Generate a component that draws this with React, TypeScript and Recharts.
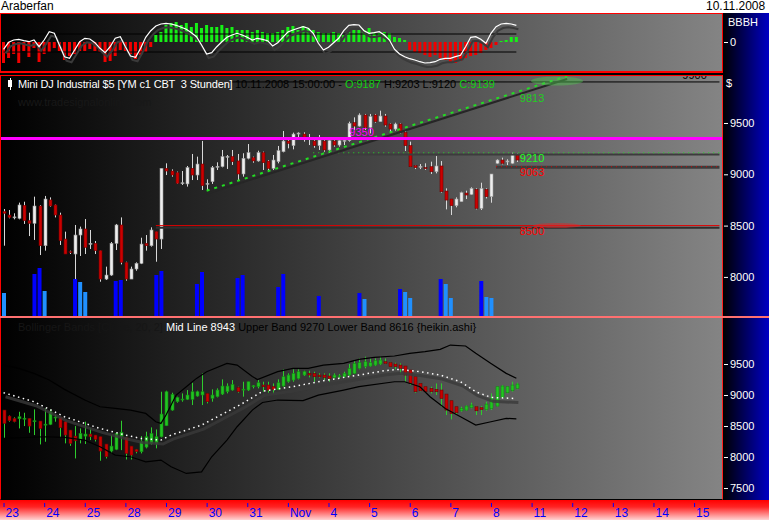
import React from 'react';
import { ComposedChart, Bar, Line, XAxis, YAxis, ReferenceLine, ReferenceDot, Cell } from 'recharts';

const FONT = '"Liberation Sans", Arial, Helvetica, sans-serif';

// 142 three-hour slots across the plot, a date label every 8 slots
const SLOTS = 142;
const dayLabels = ['23', '24', '25', '28', '29', '30', '31', 'Nov', '4', '5', '6', '7', '8', '11', '12', '13', '14', '15'];

// Mini DJ Industrial $5, 3h bars (main pane)
const openP = [
  8636, 8603, 8580, 8571, 8697, 8548, 8522, 8691, 8304, 8750,
  8701, 8603, 8369, 8246, 8223, 8408, 8467, 8320, 8327, 8256,
  7979, 8018, 8327, 8506, 8142, 7979, 8077, 8132, 8327, 8304,
  8441, 8369, 9058, 9032, 9016, 8912, 8906, 9058, 8993, 9100,
  8906, 8928, 9075, 9075, 9172, 9172, 9130, 9003, 9156, 9162,
  9130, 9211, 9129, 9058, 9124, 9220, 9324, 9279, 9399, 9392,
  9357, 9324, 9279, 9324, 9237, 9324, 9285, 9328, 9328, 9503,
  9470, 9578, 9458, 9578, 9513, 9568, 9490, 9441, 9490, 9409,
  9279, 9084, 9074, 9065, 9074, 9025, 9081, 8837, 8759, 8694,
  8733, 8817, 8804, 8853, 8668, 8853, 8782, 9107, 9139, 9120,
  9107, 9187,
];
const highP = [
  8662, 8652, 8620, 8724, 8733, 8626, 8782, 8700, 8789, 8775,
  8705, 8626, 8441, 8256, 8506, 8490, 8564, 8457, 8350, 8256,
  8100, 8340, 8516, 8580, 8148, 8100, 8142, 8382, 8408, 8483,
  8441, 9058, 9107, 9048, 9026, 9032, 9081, 9198, 9172, 9325,
  8951, 9081, 9117, 9237, 9188, 9237, 9198, 9205, 9295, 9172,
  9230, 9221, 9139, 9188, 9276, 9422, 9350, 9406, 9409, 9409,
  9392, 9350, 9383, 9350, 9350, 9334, 9350, 9360, 9513, 9555,
  9594, 9588, 9588, 9588, 9620, 9588, 9497, 9503, 9497, 9422,
  9318, 9090, 9100, 9107, 9123, 9178, 9129, 8863, 8759, 8775,
  8830, 8840, 8873, 8863, 8918, 8863, 9003, 9146, 9162, 9146,
  9210, 9203,
];
const lowP = [
  8304, 8571, 8561, 8561, 8516, 8398, 8360, 8213, 8256, 8684,
  8580, 8311, 8223, 8223, 7979, 8204, 8223, 8272, 8223, 7953,
  7970, 8010, 8262, 8122, 7963, 7979, 8060, 8125, 8256, 8295,
  8148, 8272, 8993, 8977, 8906, 8896, 8880, 8944, 8944, 8847,
  8840, 8906, 9042, 9068, 9052, 9091, 8944, 8977, 9146, 9113,
  9123, 9042, 9032, 9042, 9107, 9214, 9253, 9243, 9350, 9318,
  9285, 9259, 9237, 9220, 9211, 9269, 9269, 9285, 9318, 9432,
  9464, 9432, 9399, 9503, 9513, 9464, 9409, 9425, 9399, 9227,
  9074, 9051, 9051, 9042, 9003, 9009, 8821, 8658, 8603, 8678,
  8733, 8759, 8798, 8658, 8652, 8765, 8723, 9100, 9097, 9090,
  9100, 9120,
];
const closeP = [
  8620, 8580, 8585, 8701, 8548, 8522, 8691, 8304, 8759, 8691,
  8603, 8353, 8223, 8240, 8408, 8467, 8288, 8327, 8256, 7979,
  8018, 8327, 8506, 8142, 7979, 8077, 8132, 8320, 8304, 8457,
  8369, 9058, 9032, 8993, 8912, 8918, 9065, 8993, 9100, 8889,
  8912, 9065, 9078, 9172, 9175, 9123, 9003, 9156, 9211, 9130,
  9211, 9113, 9058, 9139, 9230, 9324, 9302, 9392, 9402, 9357,
  9360, 9279, 9334, 9237, 9328, 9285, 9328, 9331, 9497, 9470,
  9578, 9458, 9562, 9513, 9568, 9480, 9441, 9490, 9406, 9279,
  9074, 9065, 9078, 9063, 9025, 9081, 8830, 8749, 8694, 8759,
  8821, 8798, 8863, 8668, 8863, 8782, 9003, 9139, 9107, 9130,
  9188, 9139,
];

// volume, only the bars that show above the pane floor (thousands)
const volIdx = [0, 6, 7, 8, 14, 15, 16, 22, 23, 30, 31, 38, 39, 46, 47, 54, 55, 62, 70, 71, 78, 79, 80, 86, 87, 88, 94, 95, 96];
const volVal = [23, 42, 48, 25, 37, 34, 24, 35, 36, 41, 45, 32, 44, 38, 41, 29, 42, 20, 23, 17, 27, 24, 18, 37, 32, 18, 35, 19, 18];
const volShade = ['l', 'd', 'd', 'l', 'd', 'l', 'l', 'd', 'd', 'd', 'd', 'd', 'd', 'd', 'd', 'd', 'd', 'd', 'd', 'l', 'd', 'l', 'l', 'd', 'l', 'l', 'd', 'l', 'l'];

// BBBH pane: histogram and oscillator line
const histo = [
  -21, -16, -12, -21, -9, -15, -6, -20, -12, -10, -6, -9, -18, -14, -12, -9, -9, -7, -9, -10,
  -20, -19, -14, -8, -9, -12, -17, -13, -10, -5,
  7, 10, 17, 19, 20, 17, 19, 15, 19, 14, 17, 15, 15, 17, 14, 15, 12, 12, 12, 10,
  12, 10, 9, 9, 10, 12, 15, 16, 12, 16, 14, 12, 10, 9, 9, 10, 9, 7, 10, 12,
  14, 12, 14, 10, 9, 10, 9, 5, 4, 2,
  -8, -10, -11, -13, -15, -13, -16, -18, -20, -21, -19, -16, -14, -13, -11, -8, -6,
  -3, 1, 2, 5, 5,
];
const oscLine = [
  -7.3, -0.3, 2, 2.7, 1.3, 0.3, 2, -4.7, 2, 10.3,
  8.7, -3, -14.7, -16.3, -8, 0.3, 3.7, 3, -0.7, -6.3,
  -10.7, -4.7, 3.7, 5.3, -4.7, -14, -15.3, -6.3, 4.7, 11.3,
  16, 18, 18.7, 18, 16.7, 14.7, 12.7, 9.3, 5.3, -3,
  -12, -10.7, -4.7, 0.3, 4.7, 7, 8.7, 7, 4.7, 2,
  3.7, 2.7, 1.3, -4, -0.7, 4.7, 10, 12, 13.7, 15.3,
  13.7, 8.7, -1.3, -8, -5.3, -0.7, 3.7, 11.3, 16.7, 17.3,
  17, 11.3, 8.7, 9.3, 10.3, 7, 2, -7.3, -12, -14.7,
  -16.7, -18, -19.7, -21, -20.7, -19.7, -17.3, -16.3, -16.3, -14.7,
  -13.3, -4.7, 4.7, 5.3, 2.7, -1.3, 8.7, 15.3, 18, 18.7,
  18, 16.7,
];

// heikin ashi candles (lower pane)
const haO = [
  8757, 8660, 8623, 8617, 8620, 8623, 8575, 8580, 8520, 8526,
  8639, 8639, 8569, 8434, 8337, 8284, 8337, 8370, 8354, 8327,
  8209, 8096, 8123, 8327, 8311, 8176, 8123, 8085, 8160, 8214,
  8219, 8327, 8505, 8757, 8892, 8925, 8930, 8930, 8983, 9000,
  9026, 8946, 8973, 9015, 9053, 9080, 9123, 9085, 9080, 9145,
  9134, 9161, 9161, 9134, 9091, 9145, 9214, 9241, 9268, 9322,
  9349, 9349, 9322, 9322, 9306, 9284, 9305, 9295, 9322, 9349,
  9430, 9457, 9467, 9483, 9500, 9537, 9521, 9500, 9483, 9467,
  9403, 9295, 9188, 9134, 9107, 9091, 9080, 9015, 8908, 8811,
  8746, 8757, 8800, 8811, 8795, 8768, 8784, 8822, 8962, 9037,
  9069, 9107,
];
const haH = [
  8757, 8670, 8640, 8730, 8714, 8623, 8768, 8580, 8784, 8768,
  8677, 8639, 8569, 8434, 8499, 8462, 8570, 8462, 8354, 8327,
  8209, 8354, 8392, 8585, 8311, 8176, 8130, 8337, 8408, 8478,
  8445, 9053, 9069, 9037, 8973, 9026, 9080, 9198, 9069, 9349,
  9026, 9091, 9107, 9252, 9188, 9241, 9134, 9214, 9214, 9161,
  9241, 9214, 9214, 9187, 9252, 9413, 9349, 9413, 9413, 9392,
  9392, 9376, 9350, 9349, 9349, 9349, 9338, 9376, 9500, 9553,
  9591, 9618, 9591, 9591, 9618, 9591, 9530, 9521, 9510, 9467,
  9403, 9295, 9188, 9134, 9134, 9187, 9187, 9015, 8908, 8811,
  8811, 8833, 8876, 8822, 8822, 8892, 9026, 9134, 9161, 9145,
  9214, 9198,
];
const haL = [
  8300, 8569, 8560, 8461, 8499, 8391, 8354, 8203, 8246, 8515,
  8569, 8316, 8220, 8180, 7977, 8220, 8210, 8273, 8250, 7940,
  7977, 8058, 8111, 8111, 7960, 7960, 8060, 8058, 8140, 8200,
  8140, 8316, 8499, 8746, 8876, 8892, 8919, 8838, 8973, 8838,
  8865, 8892, 8962, 9000, 9026, 9069, 9037, 8973, 9064, 9107,
  9107, 9053, 9037, 9026, 9080, 9134, 9198, 9214, 9252, 9306,
  9284, 9214, 9280, 9241, 9214, 9268, 9268, 9284, 9306, 9338,
  9414, 9430, 9457, 9467, 9483, 9500, 9457, 9414, 9349, 9214,
  9161, 9037, 9060, 9040, 9026, 9000, 8811, 8677, 8607, 8677,
  8730, 8746, 8784, 8677, 8677, 8746, 8757, 8811, 8946, 9026,
  9053, 9091,
];
const haC = [
  8542, 8585, 8569, 8650, 8626, 8499, 8585, 8461, 8530, 8730,
  8645, 8472, 8354, 8219, 8262, 8380, 8370, 8327, 8284, 8096,
  8004, 8176, 8380, 8400, 8058, 8031, 8085, 8246, 8327, 8380,
  8327, 8693, 9053, 9010, 8961, 8935, 9000, 9053, 9053, 9053,
  8892, 9000, 9080, 9145, 9145, 9171, 9053, 9095, 9214, 9150,
  9198, 9134, 9080, 9091, 9198, 9295, 9322, 9349, 9376, 9376,
  9322, 9295, 9295, 9284, 9268, 9322, 9310, 9349, 9430, 9510,
  9521, 9537, 9521, 9553, 9564, 9510, 9457, 9457, 9430, 9322,
  9188, 9053, 9069, 9053, 9053, 9053, 8946, 8757, 8703, 8714,
  8784, 8822, 8838, 8746, 8768, 8854, 8946, 9134, 9145, 9134,
  9161, 9177,
];

// Bollinger bands, read at the slots below
const upperIdx = [0, 3, 6, 9, 12, 16, 19, 22, 25, 28, 30, 31, 32, 34, 36, 38, 40, 44, 46, 49, 50, 54, 57, 60, 63, 67, 70, 73, 77, 80, 83, 86, 88, 91, 93, 96, 99, 101];
const upperBand = [9483, 9430, 9349, 9241, 9091, 8919, 8811, 8784, 8757, 8703, 8569, 8542, 8677, 8999, 9134, 9268, 9376, 9510, 9483, 9300, 9250, 9376, 9430, 9430, 9483, 9510, 9575, 9607, 9629, 9672, 9699, 9736, 9806, 9790, 9672, 9510, 9349, 9270];
const lowerIdx = [0, 8, 12, 16, 19, 22, 25, 28, 31, 33, 36, 39, 41, 44, 46, 49, 51, 54, 59, 62, 67, 70, 77, 79, 82, 84, 87, 90, 93, 96, 99, 101];
const lowerBand = [8300, 8327, 8316, 8273, 8165, 8031, 8004, 7923, 7950, 7843, 7735, 7760, 8004, 8273, 8488, 8757, 8880, 8919, 8910, 8999, 9080, 9134, 9214, 9214, 9134, 8972, 8784, 8650, 8515, 8569, 8623, 8616];
const midIdx = [0, 6, 12, 19, 24, 27, 31, 33, 39, 44, 47, 51, 57, 63, 70, 75, 78, 82, 86, 90, 93, 96, 101];
const midBand = [9037, 8892, 8650, 8461, 8354, 8300, 8273, 8354, 8515, 8730, 8860, 9060, 9134, 9231, 9322, 9392, 9414, 9376, 9322, 9214, 9053, 8962, 8943];

const pick = (idxs: number[], vals: any[], i: number) => {
  const k = idxs.indexOf(i);
  return k < 0 ? null : vals[k];
};

const rows = Array.from({ length: SLOTS }, (_, i) => ({
  idx: i,
  o: openP[i] ?? null,
  h: highP[i] ?? null,
  l: lowP[i] ?? null,
  c: closeP[i] ?? null,
  ho: haO[i] ?? null,
  hh: haH[i] ?? null,
  hl: haL[i] ?? null,
  hc: haC[i] ?? null,
  hist: histo[i] ?? null,
  osc: oscLine[i] ?? null,
  vol: pick(volIdx, volVal, i),
  shade: pick(volIdx, volShade, i),
  upper: pick(upperIdx, upperBand, i),
  lower: pick(lowerIdx, lowerBand, i),
  mid: pick(midIdx, midBand, i),
}));

const drawCandle = (p: any, o: number, h: number, l: number, c: number, col: any) => {
  let { x, y, width, height } = p;
  if (height < 0) {
    y += height;
    height = -height;
  }
  const k = h > l ? height / (h - l) : 0;
  const py = (v: number) => y + (h - v) * k;
  const cx = Math.round(x + width / 2) + 0.5;
  const top = py(Math.max(o, c));
  const bodyH = Math.max(1, py(Math.min(o, c)) - top);
  const up = c >= o;
  return (
    <g>
      <line x1={cx} x2={cx} y1={y} y2={y + height} stroke={col.wick} strokeWidth={1} />
      <rect x={cx - 1.5} y={top} width={3} height={bodyH} fill={up ? col.up : col.down} stroke={up ? col.upEdge : col.downEdge} strokeWidth={0.6} />
    </g>
  );
};

const MainCandle = (p: any) => {
  const d = p.payload;
  if (!d || d.o == null) return null;
  return drawCandle(p, d.o, d.h, d.l, d.c, { wick: '#d8d8d8', up: '#eeeeee', upEdge: '#9a9a9a', down: '#cc0000', downEdge: '#700000' });
};

const HaCandle = (p: any) => {
  const d = p.payload;
  if (!d || d.ho == null) return null;
  return drawCandle(p, d.ho, d.hh, d.hl, d.hc, { wick: '#2ecc2e', up: '#22c422', upEdge: '#128a12', down: '#c80000', downEdge: '#700000' });
};

const AxisTick = (p: any) => {
  const { x, y, payload } = p;
  return (
    <g>
      <line x1={x + 2} x2={x + 6} y1={y + 0.5} y2={y + 0.5} stroke="#ffffff" />
      <text x={x + 8} y={y + 4} fill="#ffffff" fontSize={11} fontFamily={FONT}>{payload.value}</text>
    </g>
  );
};

const DayTick = (p: any) => {
  const { x, y, payload } = p;
  const label = dayLabels[Math.round(payload.value / 8)];
  if (label === undefined) return null;
  return (
    <g>
      <line x1={x + 0.5} x2={x + 0.5} y1={y + 5} y2={y + 9} stroke="#0000ff" />
      <text x={x + 2} y={y + 19} fill="#0000ff" fontSize={12} fontFamily={FONT}>{label}</text>
    </g>
  );
};

const tag = (text: string, color: string, dx: number, dy: number) => (props: any) => {
  const vb = props.viewBox || { x: 0, y: 0 };
  return (
    <text x={vb.x + dx} y={vb.y + dy} fill={color} fontSize={11} fontFamily={FONT}>{text}</text>
  );
};

const glow = (rx: number, ry: number, fill: string) => (props: any) => (
  <ellipse cx={props.cx} cy={props.cy} rx={rx} ry={ry} fill={fill} />
);

const abs = (left: number, top: number, extra: any = {}) => ({ position: 'absolute' as const, left, top, ...extra });
const paneBg = 'linear-gradient(to right, #000000, #848484)';

export default function App() {
  return (
    <div style={abs(0, 0, { width: 769, height: 520, background: '#000', overflow: 'hidden', fontFamily: FONT })}>
      <style>{`
        .osc-shadow, .mid-shadow { transform: translate(2px, 4px); }
      `}</style>

      {/* backgrounds */}
      <div style={abs(0, 0, { width: 769, height: 13, background: '#ffffff' })} />
      <div style={abs(723, 13, { width: 46, height: 487, background: 'linear-gradient(to right, #000000, #0000c4)' })} />
      <div style={abs(0, 13, { width: 723, height: 60, background: paneBg, border: '1px solid #ff0000', borderBottomWidth: 2, boxSizing: 'border-box' })} />
      <div style={abs(0, 75, { width: 723, height: 242, background: paneBg, borderTop: '1px solid #ff0000', borderLeft: '1px solid #ff0000', borderRight: '1px solid #ff2020', boxSizing: 'border-box' })} />
      <div style={abs(0, 316, { width: 769, height: 2, background: '#ff7070' })} />
      <div style={abs(0, 318, { width: 723, height: 182, background: paneBg, borderLeft: '1px solid #ff0000', borderRight: '1px solid #ff2020', borderBottom: '1px solid #000', boxSizing: 'border-box' })} />
      <div style={abs(0, 500, { width: 769, height: 20, background: 'linear-gradient(to bottom, #ff0000 0%, #ff2424 35%, #ffd4d4 100%)' })} />

      {/* header */}
      <div style={abs(1, 0, { fontSize: 12, lineHeight: '13px', color: '#000' })}>Araberfan</div>
      <div style={abs(706, 0, { fontSize: 12, lineHeight: '13px', color: '#000' })}>10.11.2008</div>

      {/* BBBH pane */}
      <div style={abs(0, 14)}>
        <ComposedChart width={769} height={57} data={rows} margin={{ top: 0, right: 0, bottom: 0, left: 1 }}>
          <XAxis dataKey="idx" hide />
          <YAxis orientation="right" width={47} domain={[-29, 28]} allowDataOverflow ticks={[0]} interval={0}
            tick={<AxisTick />} tickSize={0} tickMargin={0} axisLine={false} tickLine={false} />
          <Bar dataKey="hist" barSize={3} isAnimationActive={false}>
            {rows.map((r) => (
              <Cell key={r.idx} fill={(r.hist ?? 0) >= 0 ? '#16f016' : '#f00000'} />
            ))}
          </Bar>
          <ReferenceLine segment={[{ x: 0, y: 8 }, { x: 101, y: 8 }]} stroke="#000" ifOverflow="visible" />
          <ReferenceLine segment={[{ x: 0, y: -10 }, { x: 101, y: -10 }]} stroke="#000" ifOverflow="visible" />
          <Line className="osc-shadow" dataKey="osc" stroke="#3a3a3a" strokeWidth={2} dot={false} isAnimationActive={false} />
          <Line dataKey="osc" stroke="#ffffff" strokeWidth={1.2} dot={false} isAnimationActive={false} />
        </ComposedChart>
      </div>
      <div style={abs(728, 16, { fontSize: 11, lineHeight: '12px', color: '#fff' })}>BBBH</div>

      {/* main pane: volume underlay */}
      <div style={abs(0, 76)}>
        <ComposedChart width={769} height={240} data={rows} margin={{ top: 0, right: 47, bottom: 0, left: 1 }}>
          <XAxis dataKey="idx" hide />
          <YAxis hide domain={[0, 240]} allowDataOverflow />
          <Bar dataKey="vol" barSize={4} isAnimationActive={false}>
            {rows.map((r) => (
              <Cell key={r.idx} fill={r.shade === 'l' ? '#2090ff' : '#0000ff'} />
            ))}
          </Bar>
        </ComposedChart>
      </div>

      {/* main pane: price */}
      <div style={abs(0, 76)}>
        <ComposedChart width={769} height={240} data={rows} margin={{ top: 0, right: 0, bottom: 0, left: 1 }}>
          <XAxis dataKey="idx" hide />
          <YAxis orientation="right" width={47} domain={[7619, 9958]} allowDataOverflow ticks={[8000, 8500, 9000, 9500]} interval={0}
            tick={<AxisTick />} tickSize={0} tickMargin={0} axisLine={false} tickLine={false} />
          <ReferenceLine segment={[{ x: 45, y: 9900 }, { x: 141, y: 9900 }]} stroke="#000" ifOverflow="visible" />
          <ReferenceDot x={133} y={9900} r={0.5} fill="none" stroke="none" ifOverflow="visible" label={tag('9900', '#000', 4, -2)} />
          <ReferenceLine segment={[{ x: 30, y: 8480 }, { x: 141, y: 8480 }]} stroke="#2e2e2e" strokeWidth={2} ifOverflow="visible" />
          <ReferenceLine segment={[{ x: 30, y: 8500 }, { x: 141, y: 8500 }]} stroke="#e00000" ifOverflow="visible" />
          <ReferenceLine segment={[{ x: 61, y: 9192 }, { x: 141, y: 9192 }]} stroke="#3c3c3c" strokeWidth={2} ifOverflow="visible" />
          <ReferenceLine segment={[{ x: 61, y: 9210 }, { x: 141, y: 9210 }]} stroke="#22dd22" strokeDasharray="1 4" ifOverflow="visible" />
          <ReferenceLine segment={[{ x: 97, y: 9068 }, { x: 141, y: 9068 }]} stroke="#3c3c3c" strokeWidth={3} ifOverflow="visible" />
          <ReferenceLine segment={[{ x: 97, y: 9074 }, { x: 141, y: 9074 }]} stroke="#dd0000" strokeDasharray="1 4" ifOverflow="visible" />
          <ReferenceLine segment={[{ x: 40, y: 8811 }, { x: 111, y: 9929 }]} stroke="#262626" strokeWidth={2} ifOverflow="visible" />
          <ReferenceDot x={109} y={9909} r={1} ifOverflow="visible" shape={glow(26, 4.5, 'rgba(80,200,80,0.45)')} />
          <ReferenceDot x={109} y={8500} r={1} ifOverflow="visible" shape={glow(24, 2.5, 'rgba(220,40,40,0.55)')} />
          <Bar dataKey={(d: any) => (d.h == null ? null : [d.l, d.h])} barSize={4} shape={<MainCandle />} isAnimationActive={false} />
          <ReferenceLine segment={[{ x: 40, y: 8840 }, { x: 111, y: 9958 }]} stroke="#22dd22" strokeWidth={2} strokeDasharray="3 5" ifOverflow="visible" />
          <ReferenceLine y={9350} stroke="#ff00ff" strokeWidth={3} ifOverflow="visible" />
          <ReferenceDot x={68} y={9350} r={0.5} fill="none" stroke="none" ifOverflow="visible" label={tag('9350', '#ff00ff', 1, -2)} />
          <ReferenceDot x={101} y={9800} r={0.5} fill="none" stroke="none" ifOverflow="visible" label={tag('9813', '#22cc22', 4, 10)} />
          <ReferenceDot x={101} y={9210} r={0.5} fill="none" stroke="none" ifOverflow="visible" label={tag('9210', '#22ff22', 4, 10)} />
          <ReferenceDot x={101} y={9074} r={0.5} fill="none" stroke="none" ifOverflow="visible" label={tag('9063', '#ff0000', 4, 10)} />
          <ReferenceDot x={101} y={8500} r={0.5} fill="none" stroke="none" ifOverflow="visible" label={tag('8500', '#ff0000', 4, 10)} />
        </ComposedChart>
      </div>
      <div style={abs(8, 80, { width: 4, height: 7, background: '#fff' })} />
      <div style={abs(9.5, 78, { width: 1, height: 12, background: '#fff' })} />
      <div style={abs(18, 78, { fontSize: 11, lineHeight: '12px', color: '#fff', whiteSpace: 'pre', letterSpacing: '-0.15px' })}>Mini DJ Industrial $5 [YM c1 CBT  3 Stunden]</div>
      <div style={abs(235, 78, { fontSize: 11, lineHeight: '12px', color: '#000', whiteSpace: 'pre' })}>
        10.11.2008 15:00:00 - <span style={{ color: '#10d010' }}>O:9187</span> H:9203 L:9120 <span style={{ color: '#10d010' }}>C:9139</span>
      </div>
      <div style={abs(18, 96, { fontSize: 11, lineHeight: '12px', color: '#181818' })}>www.tradesignalonline.com</div>
      <div style={abs(726, 77, { fontSize: 11, lineHeight: '12px', color: '#fff' })}>$</div>

      {/* Bollinger pane on heikin ashi, with the date axis */}
      <div style={abs(0, 318)}>
        <ComposedChart width={769} height={202} data={rows} margin={{ top: 0, right: 0, bottom: 0, left: 1 }}>
          <XAxis dataKey="idx" height={22} interval={7} tick={<DayTick />} tickSize={0} tickMargin={0} axisLine={false} tickLine={false} />
          <YAxis orientation="right" width={47} domain={[7339, 10242]} allowDataOverflow ticks={[7500, 8000, 8500, 9000, 9500]} interval={0}
            tick={<AxisTick />} tickSize={0} tickMargin={0} axisLine={false} tickLine={false} />
          <Line dataKey="upper" stroke="#000" strokeWidth={1.2} dot={false} connectNulls isAnimationActive={false} />
          <Line dataKey="lower" stroke="#000" strokeWidth={1.2} dot={false} connectNulls isAnimationActive={false} />
          <Line className="mid-shadow" dataKey="mid" stroke="#3a3a3a" strokeOpacity={0.8} strokeWidth={3} dot={false} connectNulls isAnimationActive={false} />
          <Line dataKey="mid" stroke="#ffffff" strokeWidth={1.5} strokeDasharray="1.5 3.5" dot={false} connectNulls isAnimationActive={false} />
          <Bar dataKey={(d: any) => (d.hh == null ? null : [d.hl, d.hh])} barSize={4} shape={<HaCandle />} isAnimationActive={false} />
        </ComposedChart>
      </div>
      <div style={abs(18, 321, { fontSize: 11, lineHeight: '12px', color: '#161616', whiteSpace: 'pre' })}>
        Bollinger Bands [Close, 20, 2] <span style={{ color: '#fff' }}>Mid Line 8943</span><span style={{ color: '#000' }}> Upper Band 9270 Lower Band 8616 {'{heikin.ashi}'}</span>
      </div>
    </div>
  );
}
